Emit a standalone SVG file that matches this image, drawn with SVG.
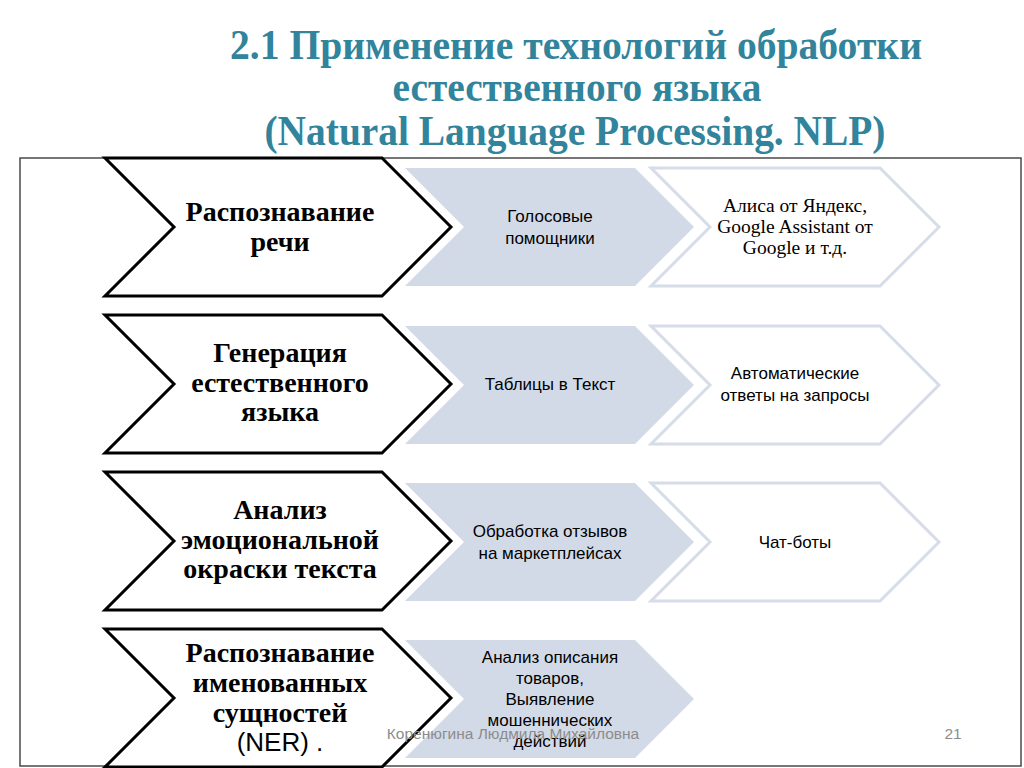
<svg xmlns="http://www.w3.org/2000/svg" width="1024" height="768" viewBox="0 0 1024 768">
<style>
.title{font-family:"Liberation Serif","Times New Roman",serif;font-weight:bold;font-size:42px;fill:#31849b;text-anchor:middle}
.main{fill:#ffffff;stroke:#000000;stroke-width:3;stroke-linejoin:miter}
.mainT{font-family:"Liberation Serif","Times New Roman",serif;font-weight:bold;font-size:28px;fill:#000;text-anchor:middle}
.mainS{font-family:"Liberation Sans",Arial,sans-serif;font-size:26px;fill:#000;text-anchor:middle}
.blue{fill:#d3dae7;stroke:none}
.white{fill:#ffffff;stroke:#d6dde9;stroke-width:3}
.sans{font-family:"Liberation Sans",Arial,sans-serif;font-size:17px;fill:#000;text-anchor:middle}
.serif{font-family:"Liberation Serif","Times New Roman",serif;font-size:19.5px;fill:#000;text-anchor:middle}
.foot{font-family:"Liberation Sans",Arial,sans-serif;font-size:15.5px;fill:#8c8c8c}
</style>
<rect width="1024" height="768" fill="#ffffff"/>
<g id="title">
<text class="title" x="576" y="59" textLength="692" lengthAdjust="spacingAndGlyphs">2.1 Применение технологий обработки</text>
<text class="title" x="577" y="101" textLength="369" lengthAdjust="spacingAndGlyphs">естественного языка</text>
<text class="title" x="575" y="145" textLength="621" lengthAdjust="spacingAndGlyphs">(Natural Language Processing. NLP)</text>
</g>
<rect id="frame" x="20" y="158" width="1001" height="608" fill="none" stroke="#4a4a4a" stroke-width="1.5"/>
<g id="connectors"></g>
<!-- Row 1 -->
<g id="row1-b"><polygon class="blue" points="405,168 635,168 694,227 635,286 405,286 464,227"/>
<text class="sans" x="550" y="222">Голосовые</text><text class="sans" x="550" y="244">помощники</text></g>
<g id="row1-c"><polygon class="white" points="651,168 880,168 939,227 880,286 651,286 710,227"/>
<text class="serif" x="795" y="212">Алиса от Яндекс,</text><text class="serif" x="795" y="233">Google Assistant от</text><text class="serif" x="795" y="254">Google и т.д.</text></g>
<g id="row1-a"><polygon class="main" points="105,158 382,158 451,227 382,296 105,296 174,227"/>
<text class="mainT" x="280" y="221">Распознавание</text><text class="mainT" x="280" y="251">речи</text></g>
<!-- Row 2 -->
<g id="row2-b"><polygon class="blue" points="405,326 635,326 694,385 635,444 405,444 464,385"/>
<text class="sans" x="550" y="390">Таблицы в Текст</text></g>
<g id="row2-c"><polygon class="white" points="651,326 880,326 939,385 880,444 651,444 710,385"/>
<text class="sans" x="795" y="379">Автоматические</text><text class="sans" x="795" y="401">ответы на запросы</text></g>
<g id="row2-a"><polygon class="main" points="105,315 382,315 451,384 382,453 105,453 174,384"/>
<text class="mainT" x="280" y="362">Генерация</text><text class="mainT" x="280" y="392">естественного</text><text class="mainT" x="280" y="421">языка</text></g>
<!-- Row 3 -->
<g id="row3-b"><polygon class="blue" points="405,483 635,483 694,542 635,601 405,601 464,542"/>
<text class="sans" x="550" y="537">Обработка отзывов</text><text class="sans" x="550" y="559">на маркетплейсах</text></g>
<g id="row3-c"><polygon class="white" points="651,483 880,483 939,542 880,601 651,601 710,542"/>
<text class="sans" x="795" y="548">Чат-боты</text></g>
<g id="row3-a"><polygon class="main" points="105,472 382,472 451,541 382,610 105,610 174,541"/>
<text class="mainT" x="280" y="519">Анализ</text><text class="mainT" x="280" y="549">эмоциональной</text><text class="mainT" x="280" y="578">окраски текста</text></g>
<!-- Row 4 -->
<g id="row4-b"><polygon class="blue" points="405,640 635,640 694,699 635,758 405,758 464,699"/>
<text class="sans" x="550" y="663">Анализ описания</text><text class="sans" x="550" y="684">товаров,</text><text class="sans" x="550" y="705">Выявление</text><text class="sans" x="550" y="726">мошеннических</text><text class="sans" x="550" y="747">действий</text></g>
<g id="row4-a"><polygon class="main" points="105,629 382,629 451,698 382,767 105,767 174,698"/>
<text class="mainT" x="280" y="662">Распознавание</text><text class="mainT" x="280" y="692">именованных</text><text class="mainT" x="280" y="722">сущностей</text><text class="mainS" x="280" y="751">(NER) .</text></g>
<g id="footer">
<text class="foot" x="513" y="739" text-anchor="middle">Коренюгина Людмила Михайловна</text>
<text class="foot" x="953" y="739" text-anchor="middle">21</text>
</g>
</svg>
